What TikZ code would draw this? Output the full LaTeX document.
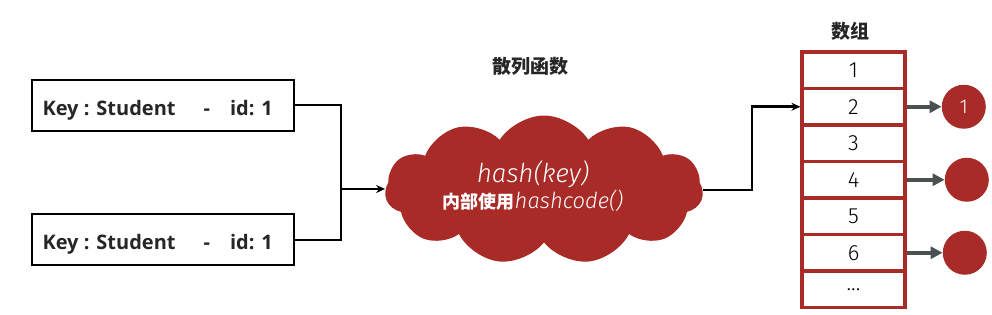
\documentclass[tikz,border=0pt]{standalone}
\usepackage{fontspec}
\setmainfont{Open Sans}
\newfontfamily\cjkfont{Noto Sans CJK SC}
\newfontfamily\handfont{Fira Sans Light Italic}
\newfontfamily\numfont{Fira Sans Light}
\usetikzlibrary{positioning,arrows.meta,shapes.symbols}
\definecolor{hashred}{RGB}{168,43,40}
\definecolor{arrowgray}{RGB}{75,80,80}

\begin{document}
\begin{tikzpicture}[
    x=1pt, y=-1pt,
    keybox/.style={rectangle, draw=black, line width=1.5pt, minimum width=262pt, minimum height=51pt, inner sep=0pt},
    keytext/.style={font=\fontsize{20}{22}\selectfont\bfseries, text=black!85},
    title/.style={font=\cjkfont\fontsize{19}{21}\selectfont\bfseries, text=black!85},
    cell/.style={rectangle, draw=hashred, line width=3.2pt, minimum width=103pt, minimum height=36.5pt, inner sep=0pt, font=\numfont\fontsize{22}{24}\selectfont},
    bucket/.style={circle, fill=hashred, minimum size=44pt, inner sep=0pt, text=white, font=\numfont\fontsize{20}{22}\selectfont},
    arrow/.style={-{Stealth[length=9pt,width=8pt]}, line width=2.8pt, line join=miter},
    grayarrow/.style={-{Triangle[length=12pt,width=12pt]}, line width=3.6pt, draw=arrowgray}
]
\useasboundingbox (0,0) rectangle (992,314);

% Keys
\node[keybox] (key1) at (163,105.5) {};
\node[keybox] (key2) at (163,239.5) {};
\node[keytext, anchor=west] (k1text) at (39,110) {Key : Student\hspace{1.4em}-\hspace{1em}id: 1};
\node[keytext, anchor=west] (k2text) at (39,244) {Key : Student\hspace{1.4em}-\hspace{1em}id: 1};

% Hash function
\node[title] (htitle) at (530,66) {散列函数};
\node[cloud, cloud puffs=11, cloud puff arc=115, aspect=2.2, fill=hashred,
      minimum width=318pt, minimum height=149pt, inner sep=0pt] (hash) at (544,190) {};
\node[text=white, font=\handfont\fontsize{26}{28}\selectfont] (hkey) at (533,174) {hash(key)};
\node[text=white, font=\fontsize{18}{20}\selectfont] (hcode) at (533,201)
    {{\cjkfont\bfseries 内部使用}{\handfont\fontsize{22}{24}\selectfont hashcode()}};
\coordinate (join) at (341,189);
\coordinate (bend) at (752,103);

% Array
\node[title] (atitle) at (850,31) {数组};
\foreach \i/\t in {1/1,2/2,3/3,4/4,5/5,6/6,7/{.{}.{}.}}
    \node[cell] (cell\i) at (853.5,{52+36.5*(\i-0.5)}) {\t};

% Buckets
\node[bucket, right=35pt of cell2] (b1) {1};
\node[bucket, right=38pt of cell4] (b2) {};
\node[bucket, right=36pt of cell6] (b3) {};

% Connectors
\draw[line width=2.8pt] (key1.east |- 0,105) -| (join);
\draw[line width=2.8pt] (key2.east |- 0,240) -| (join);
\draw[arrow] (join) -- (join -| hash.west);
\draw[arrow] (hash.east) -| (bend |- cell2.west) -- (cell2.west);
\draw[grayarrow] (cell2.east) -- (b1);
\draw[grayarrow] (cell4.east) -- (b2);
\draw[grayarrow] (cell6.east) -- (b3);

\end{tikzpicture}
\end{document}
